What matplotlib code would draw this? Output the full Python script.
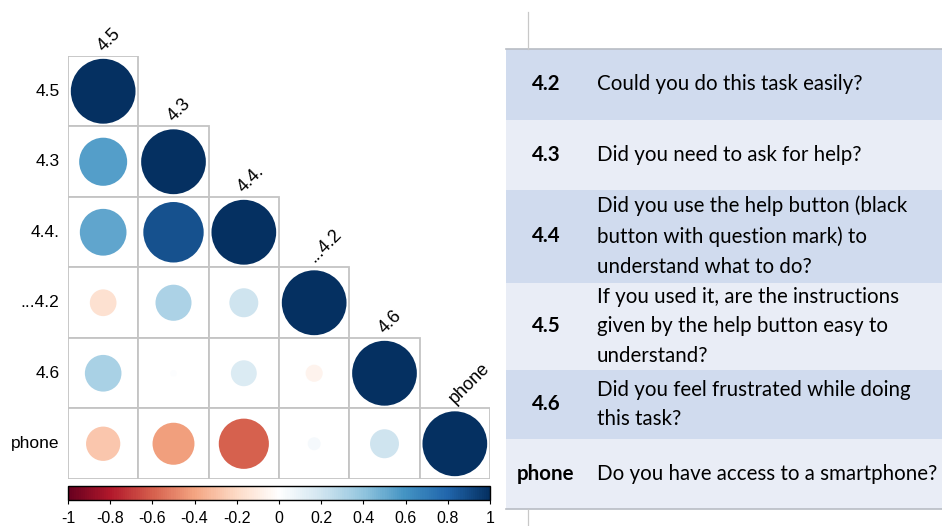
import numpy as np
import matplotlib
matplotlib.use("Agg")
import matplotlib.pyplot as plt
from matplotlib.colors import LinearSegmentedColormap, Normalize
from matplotlib.patches import Circle, Rectangle
from matplotlib.cm import ScalarMappable

# Variables of the correlation matrix (order as plotted)
variables = ["4.5", "4.3", "4.4.", "...4.2", "4.6", "phone"]

# Lower-triangular correlation coefficients, one list per row
corr_rows = [
    [1.00],
    [0.55, 1.00],
    [0.52, 0.87, 1.00],
    [-0.17, 0.31, 0.20, 1.00],
    [0.32, 0.01, 0.16, -0.07, 1.00],
    [-0.28, -0.42, -0.60, 0.04, 0.20, 1.00],
]

# Colorbar ticks
cbar_ticks = [-1, -0.8, -0.6, -0.4, -0.2, 0, 0.2, 0.4, 0.6, 0.8, 1]

# Questionnaire legend table
table_keys = ["4.2", "4.3", "4.4", "4.5", "4.6", "phone"]
table_questions = [
    "Could you do this task easily?",
    "Did you need to ask for help?",
    "Did you use the help button (black\nbutton with question mark) to\nunderstand what to do?",
    "If you used it, are the instructions\ngiven by the help button easy to\nunderstand?",
    "Did you feel frustrated while doing\nthis task?",
    "Do you have access to a smartphone?",
]

# Diverging palette (red -> white -> blue)
palette = ["#67001F", "#B2182B", "#D6604D", "#F4A582", "#FDDBC7", "#FFFFFF",
           "#D1E5F0", "#92C5DE", "#4393C3", "#2166AC", "#053061"]
cmap = LinearSegmentedColormap.from_list("corr_rdbu", palette, N=200)
norm = Normalize(vmin=-1, vmax=1)

W, H = 942, 526
fig = plt.figure(figsize=(W / 100, H / 100), dpi=100)
fig.patch.set_facecolor("white")

label_font = "Liberation Sans"
table_font = "Lato"

# ---- correlation plot ----
ax = fig.add_axes([68 / W, 1 - 479 / H, 422 / W, 423 / H])
n = len(variables)
ax.set_xlim(0, n)
ax.set_ylim(n, 0)
ax.axis("off")

grid_col = "#C4C4C4"
for i, row in enumerate(corr_rows):
    for j, r in enumerate(row):
        ax.add_patch(Rectangle((j, i), 1, 1, facecolor="white",
                               edgecolor=grid_col, lw=1.3, zorder=1))
for i, row in enumerate(corr_rows):
    for j, r in enumerate(row):
        rad = 0.46 * np.sqrt(abs(r))
        ax.add_patch(Circle((j + 0.5, i + 0.5), rad, facecolor=cmap(norm(r)),
                            edgecolor="none", zorder=2))

for i, name in enumerate(variables):
    ax.text(-0.12, i + 0.5, name, ha="right", va="center",
            fontsize=12.5, family=label_font, color="black")
    ax.text(i + 0.5, i - 0.06, name, ha="left", va="baseline", rotation=45,
            rotation_mode="anchor", fontsize=13, family=label_font,
            color="black")

# ---- colorbar ----
cax = fig.add_axes([68 / W, 1 - 500 / H, 422 / W, 14 / H])
sm = ScalarMappable(norm=norm, cmap=cmap)
cb = fig.colorbar(sm, cax=cax, orientation="horizontal", ticks=cbar_ticks)
cb.outline.set_linewidth(1.0)
cb.outline.set_edgecolor("black")
cb.ax.set_xticklabels([f"{t:g}" for t in cbar_ticks])
cax.tick_params(axis="x", length=3, width=0.8, pad=5, labelsize=11.5)
for lab in cax.get_xticklabels():
    lab.set_family(label_font)

# ---- questionnaire table ----
tax = fig.add_axes([0, 0, 1, 1], zorder=-1)
tax.set_xlim(0, W)
tax.set_ylim(H, 0)
tax.axis("off")

row_edges = [49, 120, 190, 283, 370, 439, 509]
dark, light = "#D0DBEE", "#E9EDF6"
x0, x1 = 506, W
for k in range(len(table_keys)):
    y0, y1 = row_edges[k], row_edges[k + 1]
    tax.add_patch(Rectangle((x0, y0), x1 - x0, y1 - y0,
                            facecolor=dark if k % 2 == 0 else light,
                            edgecolor="none"))
    yc = (y0 + y1) / 2
    tax.text(546, yc, table_keys[k], ha="center", va="center",
             fontsize=14.8, fontweight="bold", family=table_font, color="black")
    tax.text(597, yc, table_questions[k], ha="left", va="center",
             fontsize=14.8, family=table_font, color="black", linespacing=1.62)

tax.plot([x0, x1], [49, 49], color="#B8BCC4", lw=1.2)
tax.plot([x0, x1], [509, 509], color="#B8BCC4", lw=1.2)
tax.plot([528, 528], [12, 49], color="#C8C8C8", lw=0.9)
tax.plot([528, 528], [509, 526], color="#C8C8C8", lw=0.9)

fig.savefig("out.png", dpi=100, facecolor="white")
